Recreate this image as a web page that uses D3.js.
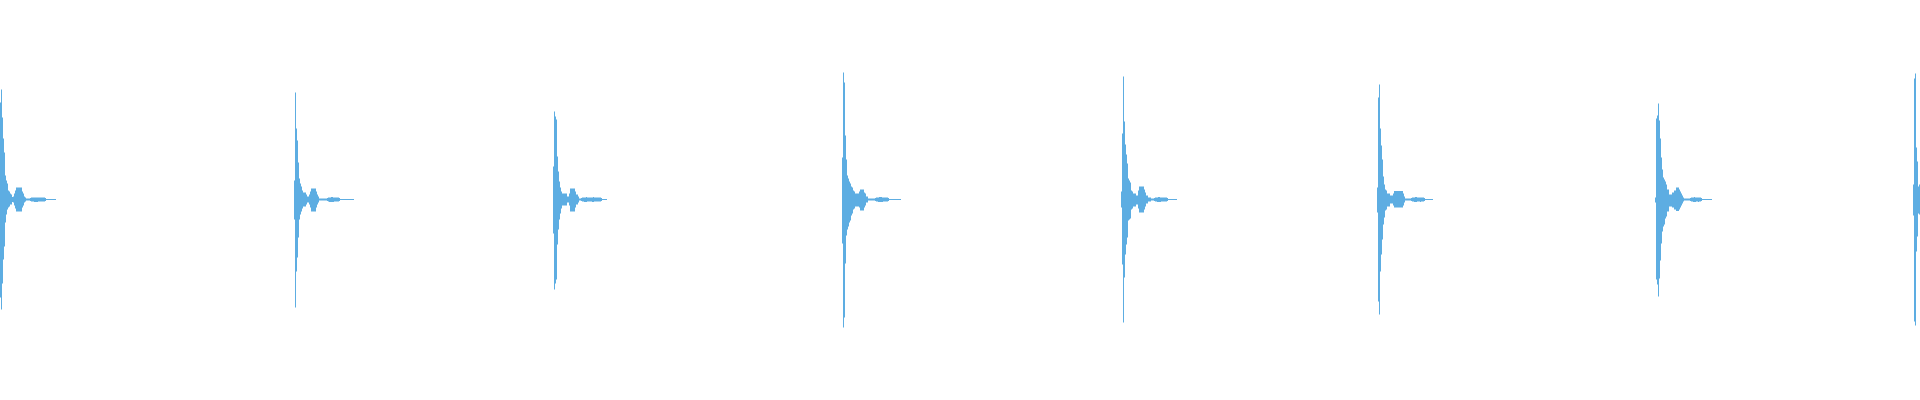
<!DOCTYPE html>
<html>
<head>
<meta charset="utf-8">
<script src="https://cdn.jsdelivr.net/npm/d3@7"></script>
<style>
  html, body { margin: 0; padding: 0; background: #ffffff; }
  svg { display: block; }
</style>
</head>
<body>
<svg id="chart" width="1920" height="400"></svg>
<script>
// Waveform summary: one max/min pair per display block (time unit = block index)
const hitOnsets = [0, 294, 553, 842, 1121, 1377, 1655, 1913];

const hit1Peaks = [97,110,82,61,47,24,19,16,9,8, 6,5,2.5,3,6,9, 12,12,12,12,12,12, 8,6,3,2, 1,1,1,1,
  1.5,2, 2,2,2,2,2,2,2,2,2,2,2,2,2, 1.5, 0.6,0.6,0.6,0.6,0.6,0.6,0.6,0.6,0.6,0.6];
const hit1Troughs = [98,110,84,60,47,23,15,10,8,7, 5,5,2.5,3,6,9, 12,12,12,12,12,12, 8,6,3,2, 1,1,1,1,
  1.5,2, 2,2,2.5,2.5,2.5,2.5,2,2,2,2,2,2,2, 1.5, 0.6,0.6,0.6,0.6,0.6,0.6,0.6,0.6,0.6,0.6];

const hit2Peaks = [19,107,71,59,37, 21,16,13,9, 7,7,7, 5, 3,3, 5, 8, 11,11,11,11,11, 8,5,3,
  1,1,1,1,1,1,1,1, 1.5,2,2,2,2.5,2.5,2,2,2,2,2,2,1.5,
  0.6,0.6,0.6,0.6,0.6,0.6,0.6,0.6,0.6,0.6,0.6,0.6,0.6,0.6];
const hit2Troughs = [20,108,72,58,38, 20,15,12,9, 7,7,7, 5, 3,3, 5, 8, 12,12,12,12,12, 8,5,3,
  1,1,1,1,1,1,1,1, 1.5,2,2.5,2.5,2.5,2.5,2.5,2,2,2,2,2,1.5,
  0.6,0.6,0.6,0.6,0.6,0.6,0.6,0.6,0.6,0.6,0.6,0.6,0.6,0.6];

const hit3Peaks = [33,88,83,80,43,28,18,12,8, 6,6,6,6,6, 3,3, 6, 11,11,11,11,11, 8, 5,5, 3, 1,1,
  1.5,2,2,2,2,2.5,2,2,2,2,2,2,2.5,2,2,2,2,2,2,2,1.5, 0.6,0.6,0.6,0.6,0.6];
const hit3Troughs = [34,90,84,80,45,30,20,14,9, 6,6,6,6,6, 3,3, 6, 12,12,12,12,12, 8, 5,5, 3, 1,1,
  1.5,2,2,2.5,2.5,2.5,2,2,2,2,2,2.5,2.5,2,2,2,2,2,2,2,1.5, 0.6,0.6,0.6,0.6,0.6];

const hit4Peaks = [42,127,117,64,40,24,21,18,16,13,12,9,8, 6,6,6,6, 8, 10,10,10,10, 7,6, 3,3,
  1,1,1,1,1,1,1, 1.5,2,2,2,2.5,2.5,2.5,2,2,2,2,2,2,1.5,
  0.6,0.6,0.6,0.6,0.6,0.6,0.6,0.6,0.6,0.6,0.6,0.6];
const hit4Troughs = [44,128,118,64,36,30,27,23,21,16,14,10,9, 7,7,7,7, 8, 11,11,11,11, 8,6, 3,3,
  1,1,1,1,1,1,1, 1.5,2,2,2.5,2.5,2.5,2.5,2.5,2,2,2,2,2,1.5,
  0.6,0.6,0.6,0.6,0.6,0.6,0.6,0.6,0.6,0.6,0.6,0.6];

const hit5Peaks = [8,66,123,78,55,45,36,21,19,17,9,8, 6,6,6, 4,4, 9, 13,13,13,13,13, 10, 7, 4,4, 2,2,2, 1,1,1,
  1.5,2,2,2,2.5,2.5,2,2,2,2,2,2,2,1.5, 0.6,0.6,0.6,0.6,0.6,0.6,0.6,0.6,0.6];
const hit5Troughs = [8,65,123,78,55,45,38,21,20,19,10,9, 7,7,7, 5,5, 9, 13,13,13,13,13, 10, 7, 4,4, 2,2,2, 1,1,1,
  1.5,2,2,2.5,2.5,2.5,2.5,2,2,2,2,2,2,1.5, 0.6,0.6,0.6,0.6,0.6,0.6,0.6,0.6,0.6];

const hit6Peaks = [12,102,115,71,54,40,23,15,10,9, 6,6,6, 4,4,4, 6, 8.5,8.5,8.5,8.5,8.5,8.5,8.5,8.5,8.5, 6,3,
  1,1,1,1,1,1, 1.5,2,2,2,2.5,2.5,2,2,2,2,2,2,2,1.5, 0.6,0.6,0.6,0.6,0.6,0.6,0.6,0.6];
const hit6Troughs = [13,102,115,72,55,40,25,18,11,10, 7,7,7, 4,4,4, 6, 8,8,8,8,8,8,8,8,8, 6,3,
  1,1,1,1,1,1, 1.5,2,2,2.5,2.5,2.5,2,2,2,2.5,2,2,2,1.5, 0.6,0.6,0.6,0.6,0.6,0.6,0.6,0.6];

const hit7Peaks = [2,81,84,96,79,61,42, 30,22,20,18,15, 10,10, 5,5,5, 7,7, 9,9, 12,12,12, 10,8,6,4,2,
  1,1,1,1,1,1, 1.5,2,2,2,2.5,2,2,2,2,2,2,1.5, 0.6,0.6,0.6,0.6,0.6,0.6,0.6,0.6,0.6,0.6];
const hit7Troughs = [3,80,85,97,79,61,44, 32,27,25,19,17, 12,12, 7,7,7, 8,8, 10,10, 11.5,11.5,11.5, 10,8,6,4,2,
  1,1,1,1,1,1, 1.5,2,2,2.5,2.5,2.5,2,2,2.5,2,2,1.5, 0.6,0.6,0.6,0.6,0.6,0.6,0.6,0.6,0.6,0.6];

const hit8Peaks = [15,121,126,52,38,13,15];
const hit8Troughs = [16,122,126,52,37,14,15];

const hitPeaks = [hit1Peaks, hit2Peaks, hit3Peaks, hit4Peaks, hit5Peaks, hit6Peaks, hit7Peaks, hit8Peaks];
const hitTroughs = [hit1Troughs, hit2Troughs, hit3Troughs, hit4Troughs, hit5Troughs, hit6Troughs, hit7Troughs, hit8Troughs];

const width = 1920, height = 400;
const svg = d3.select("#chart");

const x = d3.scaleLinear().domain([0, 1920]).range([0, width]);
const y = d3.scaleLinear().domain([-200, 200]).range([399.5, -0.5]);

const area = d3.area()
  .x(d => x(d.t))
  .y0(d => y(-d.lo))
  .y1(d => y(d.hi))
  .curve(d3.curveStepAfter);

hitOnsets.forEach((onset, h) => {
  const peaks = hitPeaks[h], troughs = hitTroughs[h];
  const pts = peaks.map((p, i) => ({ t: onset + i, hi: p, lo: troughs[i] }));
  const last = pts[pts.length - 1];
  pts.push({ t: onset + peaks.length, hi: last.hi, lo: last.lo });
  svg.append("path")
    .datum(pts)
    .attr("d", area)
    .attr("fill", "#5dade2")
    .attr("stroke", "none");
});
</script>
</body>
</html>
